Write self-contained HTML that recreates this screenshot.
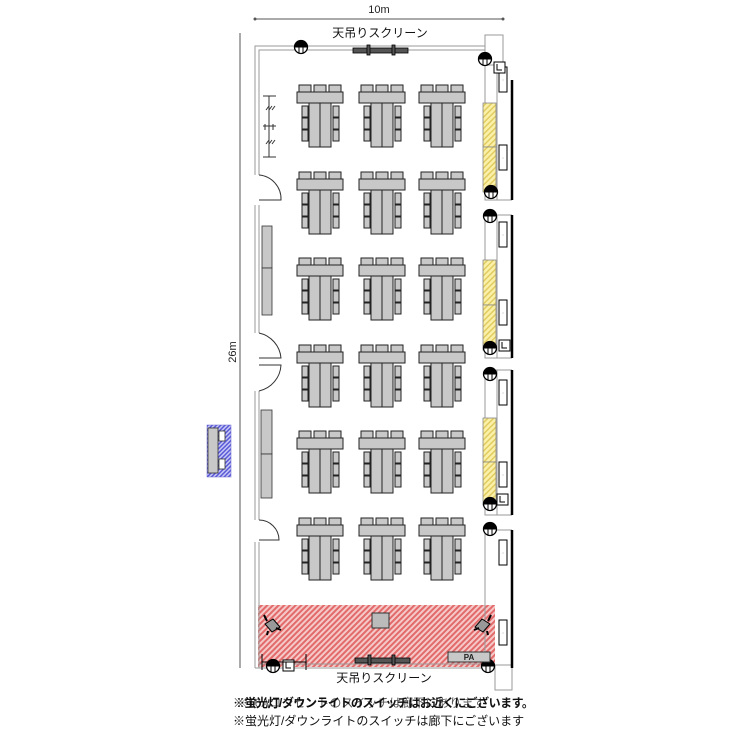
<!DOCTYPE html>
<html><head><meta charset="utf-8"><style>
html,body{margin:0;padding:0;background:#fff;width:750px;height:750px;overflow:hidden}
svg text{font-family:"Liberation Sans","Noto Sans CJK JP",sans-serif}
</style></head><body>
<svg width="750" height="750" viewBox="0 0 750 750" xmlns="http://www.w3.org/2000/svg">
<defs>
<pattern id="red" width="4" height="4" patternUnits="userSpaceOnUse" patternTransform="rotate(45)">
<rect width="4" height="4" fill="#f6c9c9"/><rect width="2" height="4" fill="#e26a6a"/></pattern>
<pattern id="yel" width="4" height="4" patternUnits="userSpaceOnUse" patternTransform="rotate(45)">
<rect width="4" height="4" fill="#fbf0a8"/><rect width="1.5" height="4" fill="#e0cc60"/></pattern>
<pattern id="blu" width="3" height="3" patternUnits="userSpaceOnUse" patternTransform="rotate(45)">
<rect width="3" height="3" fill="#c8c8f5"/><rect width="1.5" height="3" fill="#5a5ad8"/></pattern>
<g id="grp" stroke="#222" stroke-width="1" fill="#c8c8c8">
<rect x="2" y="-7" width="12" height="7"/><rect x="17" y="-7" width="12" height="7"/><rect x="32" y="-7" width="12" height="7"/>
<rect x="0" y="0" width="46" height="11"/>
<rect x="5" y="14" width="6" height="11"/><rect x="5" y="26" width="6" height="11"/><rect x="5" y="38" width="6" height="11"/>
<rect x="36" y="14" width="6" height="11"/><rect x="36" y="26" width="6" height="11"/><rect x="36" y="38" width="6" height="11"/>
<rect x="12" y="11" width="11" height="44"/><rect x="23" y="11" width="11" height="44"/>
</g>
<g id="lamp"><circle r="6.5" fill="#fff" stroke="#000" stroke-width="1.3"/><path d="M-6.5 0H6.5M-2 -6.5V6.5M2 -6.5V6.5" stroke="#000" stroke-width="1"/><path d="M-6.5 0A6.5 6.5 0 0 1 6.5 0" fill="#000"/></g>
<g id="sw"><rect x="0" y="0" width="11" height="11" fill="#fff" stroke="#000"/><path d="M3 2V8H8" fill="none" stroke="#000"/></g>
<g id="box"><rect x="0" y="0" width="8" height="25" fill="#fff" stroke="#000"/><text x="4" y="14" font-size="4" text-anchor="middle" fill="#888">::</text></g>
</defs>

<line x1="255" y1="19" x2="503" y2="19" stroke="#555"/>
<circle cx="255" cy="19" r="1.5" fill="#555"/><circle cx="503" cy="19" r="1.5" fill="#555"/>
<text x="379" y="13" font-size="11" text-anchor="middle" fill="#222">10m</text>
<line x1="240" y1="33" x2="240" y2="668" stroke="#555"/>
<text transform="translate(236,352) rotate(-90)" font-size="11" text-anchor="middle" fill="#222">26m</text>

<rect x="258" y="605" width="237" height="62" fill="url(#red)"/>

<path d="M255 668V46H485" fill="none" stroke="#999" stroke-width="1"/>
<path d="M259 668V50H485" fill="none" stroke="#999" stroke-width="1"/>
<path d="M255 668H498M259 664H495" fill="none" stroke="#999"/>
<path d="M485 35H503V65H485Z" fill="#fff" stroke="#999"/>
<path d="M485 65V200H497V65M485 215V358H497V215M485 370V515H497V370M485 530V668" fill="none" stroke="#999"/>
<path d="M485 200H512M485 215H512M485 358H512M485 370H512M485 515H512M485 530H512" stroke="#999"/>
<path d="M495 665H512V690H495Z" fill="#fff" stroke="#999"/>
<line x1="512" y1="80" x2="512" y2="200" stroke="#000" stroke-width="2.5"/>
<line x1="512" y1="215" x2="512" y2="358" stroke="#000" stroke-width="2.5"/>
<line x1="512" y1="370" x2="512" y2="515" stroke="#000" stroke-width="2.5"/>
<line x1="512" y1="530" x2="512" y2="668" stroke="#000" stroke-width="2.5"/>

<g fill="#fff" stroke="#333" stroke-width="1">
<rect x="253" y="175" width="8" height="30" stroke="none"/>
<path d="M259 175A24 24 0 0 1 281 200H259"/>
<rect x="253" y="333" width="8" height="58" stroke="none"/>
<path d="M259 333A28 28 0 0 1 281 358H259M259 391A28 28 0 0 0 281 365H259"/>
<rect x="253" y="520" width="8" height="22" stroke="none"/>
<path d="M259 520A20 20 0 0 1 279 540H259"/>
</g>

<g stroke="#333" fill="#c8c8c8" stroke-width="0.8">
<rect x="262" y="226" width="10" height="42"/><rect x="262" y="268" width="10" height="47"/>
<rect x="261" y="410" width="11" height="44"/><rect x="261" y="454" width="11" height="44"/>
</g>
<g stroke="#333" stroke-width="1" fill="none">
<path d="M263 96H276M263 157H276M269 96V157M263 126H276M265 124V130M273 124V130"/>
<path d="M266 110l3 -4M269 110l3 -4M272 110l3 -4M266 144l3 -4M269 144l3 -4M272 144l3 -4"/>
</g>
<rect x="207" y="425" width="24" height="52" fill="url(#blu)" stroke="#66c" stroke-width="0.5"/>
<rect x="208" y="428" width="10" height="45" fill="#c8c8c8" stroke="#333" stroke-width="0.8"/>
<rect x="219" y="431" width="6" height="10" fill="#fff" stroke="#333" stroke-width="0.8"/>
<rect x="219" y="459" width="6" height="10" fill="#fff" stroke="#333" stroke-width="0.8"/>

<use href="#grp" x="297" y="92"/><use href="#grp" x="359" y="92"/><use href="#grp" x="419" y="92"/>
<use href="#grp" x="297" y="179"/><use href="#grp" x="359" y="179"/><use href="#grp" x="419" y="179"/>
<use href="#grp" x="297" y="265"/><use href="#grp" x="359" y="265"/><use href="#grp" x="419" y="265"/>
<use href="#grp" x="297" y="352"/><use href="#grp" x="359" y="352"/><use href="#grp" x="419" y="352"/>
<use href="#grp" x="297" y="438"/><use href="#grp" x="359" y="438"/><use href="#grp" x="419" y="438"/>
<use href="#grp" x="297" y="525"/><use href="#grp" x="359" y="525"/><use href="#grp" x="419" y="525"/>

<g stroke="#888" stroke-width="0.8">
<rect x="483" y="103" width="13" height="44" fill="url(#yel)"/><rect x="483" y="147" width="13" height="45" fill="url(#yel)"/>
<rect x="483" y="260" width="13" height="45" fill="url(#yel)"/><rect x="483" y="305" width="13" height="45" fill="url(#yel)"/>
<rect x="483" y="418" width="13" height="44" fill="url(#yel)"/><rect x="483" y="462" width="13" height="43" fill="url(#yel)"/>
</g>
<use href="#box" x="499" y="67"/><use href="#box" x="499" y="145"/><use href="#box" x="499" y="222"/>
<use href="#box" x="499" y="300"/><use href="#box" x="499" y="380"/><use href="#box" x="499" y="462"/>
<use href="#box" x="499" y="540"/><use href="#box" x="499" y="620"/>
<use href="#sw" x="494" y="62"/><use href="#sw" x="499" y="340"/><use href="#sw" x="497" y="494"/>

<use href="#lamp" x="301" y="47"/><use href="#lamp" x="485" y="59"/><use href="#lamp" x="491" y="192"/>
<use href="#lamp" x="490" y="216"/><use href="#lamp" x="490" y="348"/><use href="#lamp" x="490" y="374"/>
<use href="#lamp" x="490" y="504"/><use href="#lamp" x="490" y="529"/><use href="#lamp" x="488" y="666"/>
<use href="#lamp" x="273" y="666"/><use href="#sw" x="283" y="660"/>

<g fill="#555" stroke="#000" stroke-width="0.8">
<rect x="353" y="48" width="55" height="5"/><rect x="355" y="658" width="55" height="5"/>
<rect x="367" y="45" width="3" height="10"/><rect x="392" y="45" width="3" height="10"/>
<rect x="368" y="655" width="3" height="10"/><rect x="392" y="655" width="3" height="10"/>
</g>
<path d="M262 654V670M306 654V670M262 662H306" stroke="#000" stroke-width="1"/>
<text x="380" y="37" font-size="12" text-anchor="middle" fill="#111">天吊りスクリーン</text>
<text x="384" y="682" font-size="12" text-anchor="middle" fill="#111">天吊りスクリーン</text>

<rect x="372" y="613" width="17" height="15" fill="#bbb" stroke="#333"/>
<rect x="448" y="652" width="42" height="10" fill="#c8c8c8" stroke="#333"/>
<text x="469" y="660" font-size="8" font-weight="bold" text-anchor="middle" fill="#222">PA</text>
<g fill="#999" stroke="#000" stroke-width="1">
<path d="M265 624l8 -5l7 8l-8 5z"/><path d="M490 624l-8 -5l-7 8l8 5z"/>
</g>
<path d="M267 621l-3 -6M276 628l5 2M268 631l-1 4M488 621l3 -6M479 628l-5 2M487 631l1 4" stroke="#000" stroke-width="2"/>

<text x="233" y="707" font-size="12" fill="#111" font-weight="bold" letter-spacing="-0.5">※蛍光灯/ダウンライトのスイッチはお近くにございます。</text>
<text x="236" y="707" font-size="12" fill="#111" opacity="0.7">※16Aコンセントのスイッチは廊下にあります</text>
<text x="233" y="725" font-size="12" fill="#111">※蛍光灯/ダウンライトのスイッチは廊下にございます</text>
</svg>
</body></html>
